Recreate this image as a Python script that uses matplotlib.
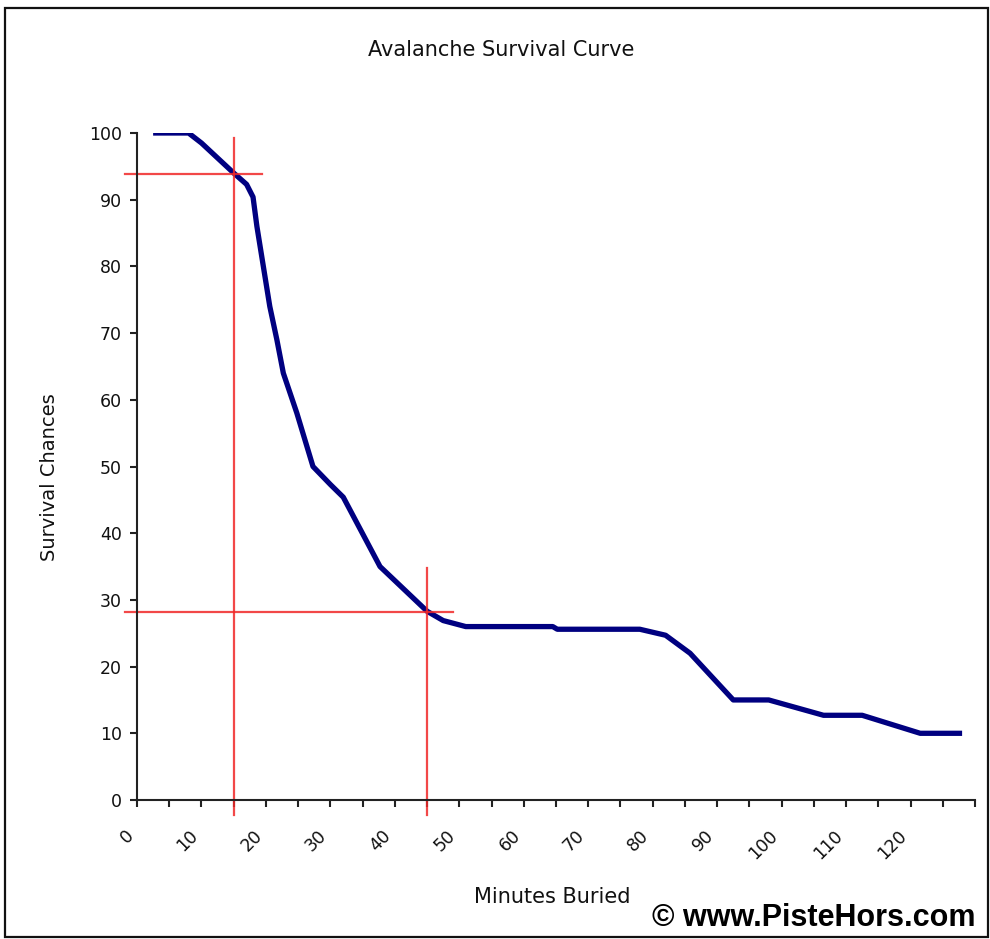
import matplotlib
matplotlib.use("Agg")
import matplotlib.pyplot as plt
from matplotlib.patches import Rectangle

# Survival curve
minutes = [2.5, 8, 10, 15, 17, 18, 18.6, 19.6, 20.6, 21.7, 22.7, 24.8, 27.3, 30,
           32, 37.7, 45, 47.5, 51, 64.5, 65.2, 78, 82, 85.8, 92.5, 98, 106.5,
           112.5, 121.5, 128]
survival = [100, 100, 98.5, 94, 92.3, 90.4, 86, 80, 74, 69, 64, 58, 50, 47.3,
            45.4, 35, 28.3, 26.9, 26, 26, 25.6, 25.6, 24.7, 22, 15, 15, 12.7,
            12.7, 10, 10]

# the two red marker points (15 min and 45 min)
mark_minutes = [15, 45]
mark_survival = [93.8, 28.2]
mark_hline_end = [19.4, 49]
mark_vline_top = [99.2, 34.8]

x_ticks = list(range(0, 131, 5))
x_labels = [str(t) if t % 10 == 0 and t <= 120 else "" for t in x_ticks]
y_ticks = list(range(0, 101, 10))

fig = plt.figure(figsize=(9.9, 9.39), dpi=100)
ax = fig.add_axes([137 / 990, 1 - 800 / 939, (975 - 137) / 990, (800 - 133) / 939])

ax.plot(minutes, survival, color="#000080", linewidth=3.8, solid_capstyle="butt")

# red guide lines
for mx, my, hx, vy in zip(mark_minutes, mark_survival, mark_hline_end, mark_vline_top):
    ax.plot([-1.9, hx], [my, my], color="#f02828", linewidth=1.6, alpha=0.85, clip_on=False)
    ax.plot([mx, mx], [-2.2, vy], color="#f02828", linewidth=1.6, alpha=0.85, clip_on=False)

ax.set_xlim(0, 130)
ax.set_ylim(0, 100)
ax.set_xticks(x_ticks)
ax.set_xticklabels(x_labels, rotation=45, ha="right")
ax.set_yticks(y_ticks)

for side in ["top", "right"]:
    ax.spines[side].set_visible(False)
for side in ["left", "bottom"]:
    ax.spines[side].set_linewidth(1.5)
    ax.spines[side].set_color("#222222")

ax.tick_params(axis="both", direction="out", length=5, width=1.5, color="#222222",
               labelsize=12.5, labelcolor="#111111")
ax.tick_params(axis="x", pad=14)
ax.tick_params(axis="y", pad=6)

fig.text(0.506, 0.9468, "Avalanche Survival Curve", ha="center", va="center",
         fontsize=15, color="#111111")
fig.text(0.558, 0.0447, "Minutes Buried", ha="center", va="center",
         fontsize=15, color="#111111")
fig.text(0.0495, 0.492, "Survival Chances", ha="center", va="center",
         rotation=90, fontsize=14, color="#111111")
fig.text(0.985, 0.022, "\u00a9 www.PisteHors.com", ha="right", va="center",
         fontsize=22, fontweight="bold", family="Liberation Sans", color="black")

# frame round the whole picture
fig.patches.append(Rectangle((5 / 990, 2 / 939), 983 / 990, 929 / 939,
                             transform=fig.transFigure, fill=False,
                             edgecolor="#111111", linewidth=1.6))

fig.savefig("out.png", dpi=100)
